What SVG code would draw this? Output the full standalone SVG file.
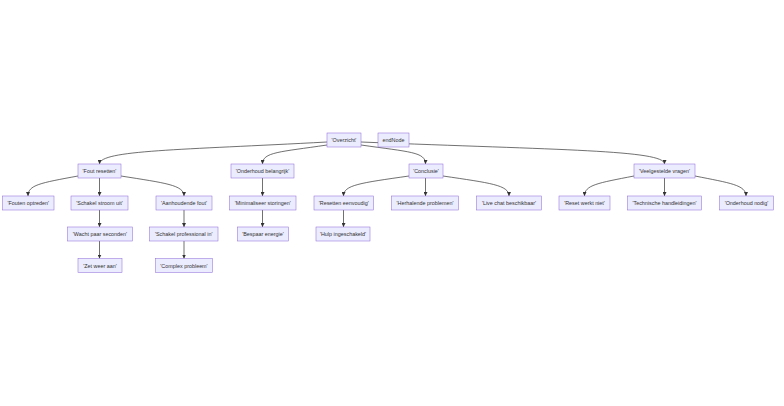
<svg xmlns="http://www.w3.org/2000/svg" width="784" height="406" viewBox="0 0 784 406">
<defs>
<marker id="arr" viewBox="0 0 10 10" refX="10" refY="5" markerWidth="4" markerHeight="4" markerUnits="userSpaceOnUse" orient="auto">
<path d="M0,0 L10,5 L0,10 z" fill="#333333"/>
</marker>
<style>
.node rect{fill:#ECECFF;stroke:#9370DB;stroke-width:0.55}
.node text{font-family:"Liberation Sans",Arial,sans-serif;font-size:5.4px;fill:#333333;text-anchor:middle;dominant-baseline:central}
.edges path{fill:none;stroke:#333333;stroke-width:0.7;marker-end:url(#arr)}
</style>
</defs>
<rect width="784" height="406" fill="#ffffff"/>
<g class="edges">
<path d="M327,142 C180,150 100,150 99.5,164"/>
<path d="M327,145 C280,152 262.5,152 262.5,164"/>
<path d="M361,145 C410,152 425.5,152 425.5,164"/>
<path d="M361,142 C560,150 664.5,150 664.5,164"/>
<path d="M78,176 C40,183 28,185 28,196"/>
<path d="M99.5,178 L99.5,196"/>
<path d="M121,176 C165,183 184,185 184,196"/>
<path d="M99.5,210 L99.5,227"/>
<path d="M99.5,241 L99.5,258.5"/>
<path d="M184,210 L184,227"/>
<path d="M184,241 L184,258.5"/>
<path d="M262.5,178 L262.5,196"/>
<path d="M262.5,210 L262.5,227"/>
<path d="M409,176 C360,183 343.5,185 343.5,196"/>
<path d="M425.5,178 L425.5,196"/>
<path d="M443,176 C490,183 509,185 509,196"/>
<path d="M343.5,210 L343.5,227"/>
<path d="M634,176 C598,183 584.5,185 584.5,196"/>
<path d="M664.5,178 L664.5,196"/>
<path d="M695,176 C730,183 746,185 746,196"/>
</g>
<g id="Overzicht" class="node"><rect x="327" y="133" width="34" height="14"/><text x="344" y="140">'Overzicht'</text></g>
<g id="endNode" class="node"><rect x="378" y="133" width="31" height="14"/><text x="393.5" y="140">endNode</text></g>
<g id="FoutResetten" class="node"><rect x="78" y="164" width="43" height="14"/><text x="99.5" y="171">'Fout resetten'</text></g>
<g id="OnderhoudBelangrijk" class="node"><rect x="231" y="164" width="63" height="14"/><text x="262.5" y="171">'Onderhoud belangrijk'</text></g>
<g id="Conclusie" class="node"><rect x="409" y="164" width="34" height="14"/><text x="426" y="171">'Conclusie'</text></g>
<g id="Veelgestelde" class="node"><rect x="634" y="164" width="61" height="14"/><text x="664.5" y="171">'Veelgestelde vragen'</text></g>
<g id="FoutenOptreden" class="node"><rect x="2.5" y="196" width="51.5" height="14"/><text x="28.25" y="203">'Fouten optreden'</text></g>
<g id="SchakelStroom" class="node"><rect x="71" y="196" width="57" height="14"/><text x="99.5" y="203">'Schakel stroom uit'</text></g>
<g id="Aanhoudende" class="node"><rect x="156" y="196" width="56" height="14"/><text x="184" y="203">'Aanhoudende fout'</text></g>
<g id="Minimaliseer" class="node"><rect x="229.5" y="196" width="66.5" height="14"/><text x="262.75" y="203">'Minimaliseer storingen'</text></g>
<g id="ResettenEenvoudig" class="node"><rect x="314" y="196" width="59.5" height="14"/><text x="343.75" y="203">'Resetten eenvoudig'</text></g>
<g id="Herhalende" class="node"><rect x="391.5" y="196" width="67" height="14"/><text x="425" y="203">'Herhalende problemen'</text></g>
<g id="LiveChat" class="node"><rect x="476.5" y="196" width="65" height="14"/><text x="509" y="203">'Live chat beschikbaar'</text></g>
<g id="ResetWerkt" class="node"><rect x="559" y="196" width="51" height="14"/><text x="584.5" y="203">'Reset werkt niet'</text></g>
<g id="Technische" class="node"><rect x="627.5" y="196" width="74" height="14"/><text x="664.5" y="203">'Technische handleidingen'</text></g>
<g id="OnderhoudNodig" class="node"><rect x="719.5" y="196" width="54" height="14"/><text x="746.5" y="203">'Onderhoud nodig'</text></g>
<g id="Wacht" class="node"><rect x="67.5" y="227" width="65" height="14"/><text x="100" y="234">'Wacht paar seconden'</text></g>
<g id="SchakelProfessional" class="node"><rect x="149.5" y="227" width="68.5" height="14"/><text x="183.75" y="234">'Schakel professional in'</text></g>
<g id="Bespaar" class="node"><rect x="237.5" y="227" width="51" height="14"/><text x="263" y="234">'Bespaar energie'</text></g>
<g id="Hulp" class="node"><rect x="316" y="227" width="54" height="14"/><text x="343" y="234">'Hulp ingeschakeld'</text></g>
<g id="ZetWeer" class="node"><rect x="78" y="258.5" width="44" height="14"/><text x="100" y="265.5">'Zet weer aan'</text></g>
<g id="Complex" class="node"><rect x="155.5" y="258.5" width="57" height="14"/><text x="184" y="265.5">'Complex probleem'</text></g>
</svg>
